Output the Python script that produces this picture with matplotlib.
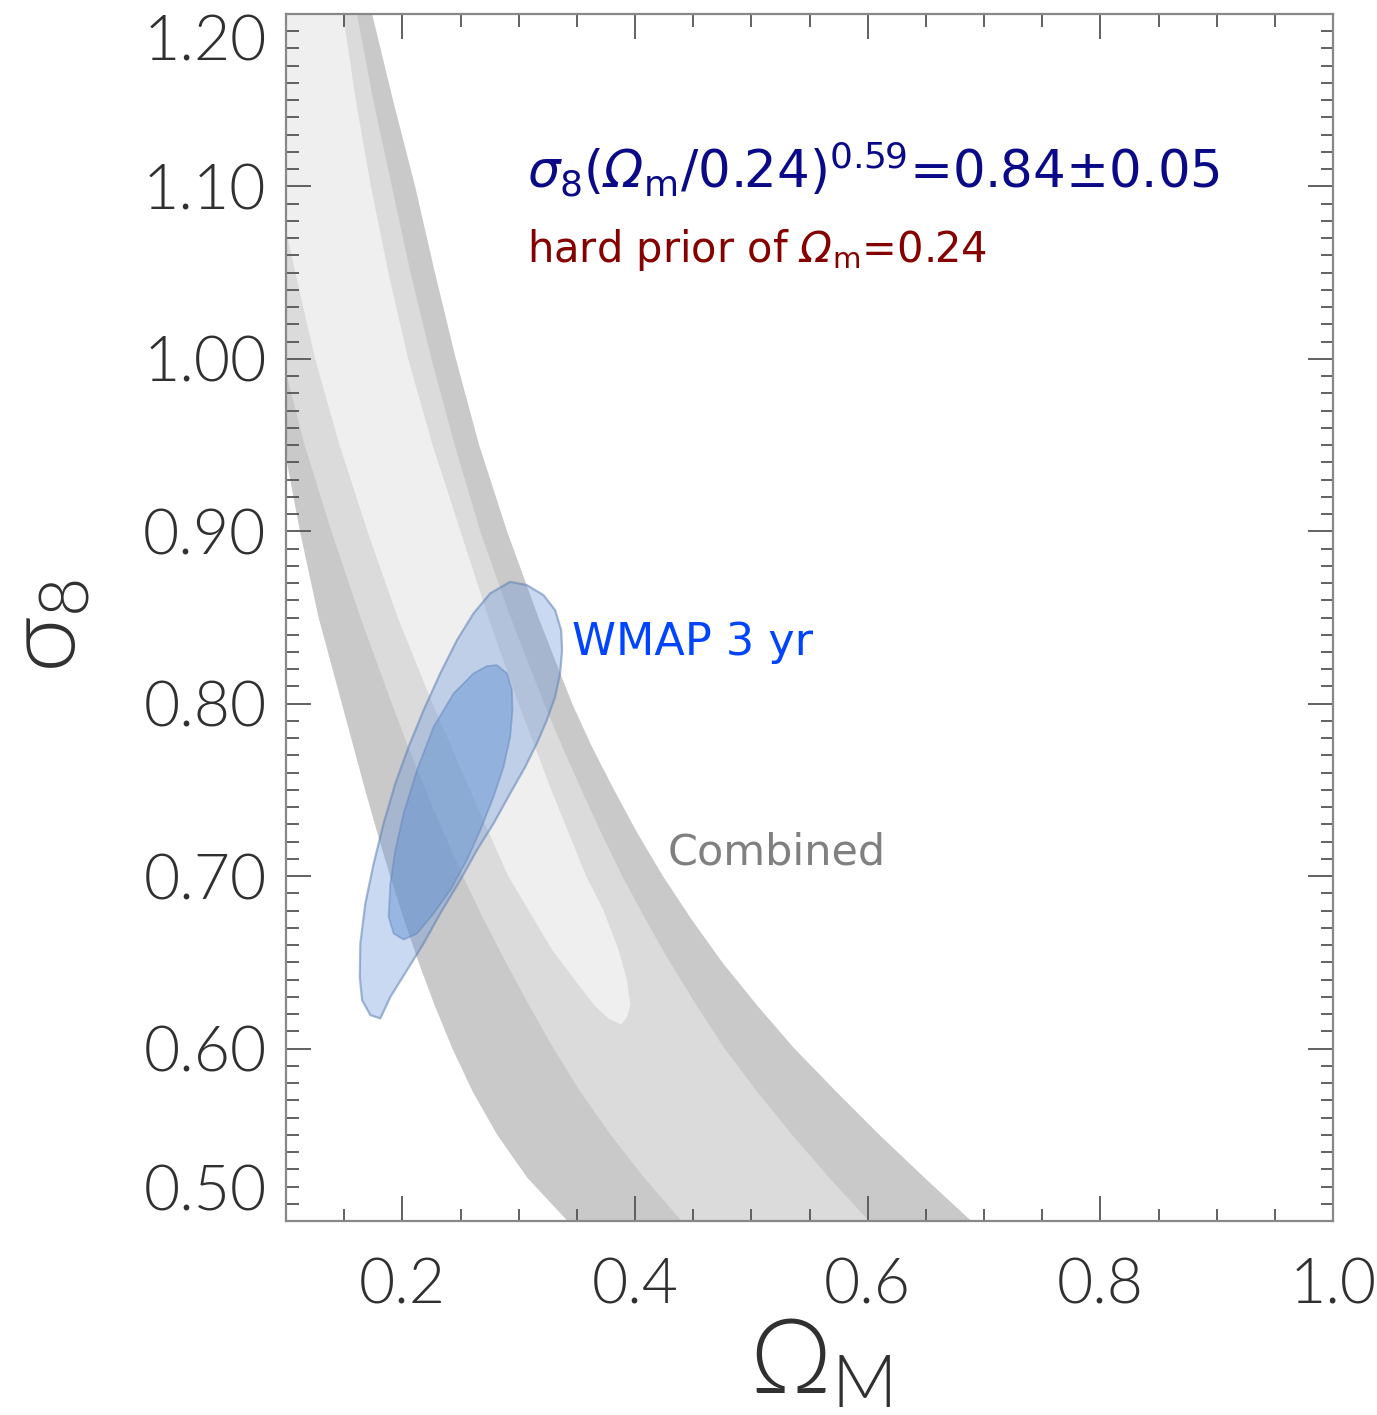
import matplotlib

matplotlib.use("Agg")

import matplotlib.pyplot as plt
import numpy as np
from matplotlib.ticker import FixedLocator, MultipleLocator

plt.rcParams["mathtext.fontset"] = "custom"
plt.rcParams["mathtext.rm"] = "DejaVu Sans:italic"
plt.rcParams["mathtext.it"] = "DejaVu Sans:italic"
plt.rcParams["mathtext.sf"] = "DejaVu Sans"

# ---- combined (lensing) constraint: band edges ----
# each boundary: sigma8 levels and the Omega_m position of the edge
left_s8 = [1.20, 1.10, 1.00, 0.95, 0.90, 0.85, 0.80, 0.775, 0.75, 0.725, 0.70, 0.675,
           0.65, 0.625, 0.60, 0.575, 0.55, 0.525, 0.50]
outer_left_om = [0.040, 0.062, 0.085, 0.098, 0.112, 0.128, 0.148, 0.158, 0.168, 0.1785, 0.1895,
                 0.2013, 0.214, 0.2278, 0.243, 0.2605, 0.2815, 0.3075, 0.342]
mid_left_om = [0.050, 0.075, 0.097, 0.116, 0.139, 0.164, 0.191, 0.205, 0.220, 0.2355, 0.252,
               0.2698, 0.289, 0.309, 0.330, 0.353, 0.379, 0.408, 0.440]

right_s8 = [1.20, 1.15, 1.10, 1.05, 1.00, 0.95, 0.90, 0.85, 0.80, 0.775, 0.75, 0.725, 0.70,
            0.675, 0.65, 0.625, 0.60, 0.575, 0.55, 0.525, 0.50]
mid_right_om = [0.161, 0.175, 0.191, 0.207, 0.225, 0.245, 0.267, 0.293, 0.322, 0.3375, 0.354,
                0.371, 0.389, 0.409, 0.430, 0.453, 0.477, 0.505, 0.535, 0.567, 0.601]
outer_right_om = [0.174, 0.192, 0.211, 0.228, 0.246, 0.266, 0.290, 0.317, 0.346, 0.363, 0.382,
                  0.402, 0.424, 0.4485, 0.475, 0.505, 0.537, 0.573, 0.610, 0.649, 0.689]

# innermost (lightest) tongue
inner_left_s8 = [1.20, 1.10, 1.05, 1.00, 0.95, 0.90, 0.85, 0.80, 0.75, 0.70, 0.657, 0.640,
                 0.625, 0.617, 0.614]
inner_left_om = [0.060, 0.092, 0.108, 0.125, 0.146, 0.170, 0.196, 0.226, 0.258, 0.291, 0.329, 0.348,
                 0.365, 0.378, 0.388]
inner_right_s8 = [1.20, 1.15, 1.10, 1.05, 1.00, 0.95, 0.90, 0.85, 0.80, 0.75, 0.70, 0.68, 0.657,
                  0.640, 0.625, 0.618]
inner_right_om = [0.149, 0.160, 0.173, 0.188, 0.205, 0.226, 0.250, 0.274, 0.300, 0.328, 0.358, 0.373,
                  0.386, 0.393, 0.396, 0.393]

# ---- WMAP 3 yr contours (closed outlines) ----
wmap_outer_om = [0.2927, 0.3070, 0.3213, 0.3313, 0.3365, 0.3373, 0.3356, 0.3313, 0.3242,
                 0.3156, 0.3056, 0.2927, 0.2784, 0.2641, 0.2498, 0.2326, 0.2183, 0.2040,
                 0.1897, 0.1811, 0.1725, 0.1654, 0.1634, 0.1639, 0.1682, 0.1754, 0.1839,
                 0.1940, 0.2054, 0.2183, 0.2326, 0.2470, 0.2612, 0.2755]
wmap_outer_s8 = [0.8707, 0.8688, 0.8630, 0.8543, 0.8427, 0.8311, 0.8176, 0.8040, 0.7905,
                 0.7770, 0.7634, 0.7480, 0.7306, 0.7151, 0.6977, 0.6784, 0.6610, 0.6455,
                 0.6300, 0.6175, 0.6194, 0.6281, 0.6416, 0.6610, 0.6842, 0.7074, 0.7306,
                 0.7538, 0.7750, 0.7963, 0.8176, 0.8369, 0.8524, 0.8640]

wmap_inner_om = [0.2813, 0.2899, 0.2942, 0.2947, 0.2927, 0.2870, 0.2784, 0.2670, 0.2555,
                 0.2412, 0.2269, 0.2126, 0.2011, 0.1925, 0.1882, 0.1897, 0.1940, 0.2011,
                 0.2126, 0.2269, 0.2441, 0.2612, 0.2727]
wmap_inner_s8 = [0.8224, 0.8176, 0.8079, 0.7963, 0.7808, 0.7634, 0.7460, 0.7267, 0.7093,
                 0.6919, 0.6784, 0.6667, 0.6632, 0.6667, 0.6764, 0.6958, 0.7151, 0.7364,
                 0.7615, 0.7866, 0.8060, 0.8176, 0.8218]

x_ticks = [0.2, 0.4, 0.6, 0.8, 1.0]
x_tick_labels = ["0.2", "0.4", "0.6", "0.8", "1.0"]
y_ticks = [0.5, 0.6, 0.7, 0.8, 0.9, 1.0, 1.1, 1.2]
y_tick_labels = ["0.50", "0.60", "0.70", "0.80", "0.90", "1.00", "1.10", "1.20"]

TICK_FONT = "Lato"
AXIS_TEXT = "#303030"


def band(ax, left_om, left_s8, right_om, right_s8, color):
    xs = np.r_[left_om, right_om[::-1]]
    ys = np.r_[left_s8, right_s8[::-1]]
    ax.fill(xs, ys, color=color, lw=0, zorder=1)


fig = plt.figure(figsize=(13.77, 14.15), dpi=100)
ax = fig.add_axes([0.2077, 0.1371, 0.7604, 0.853])

band(ax, outer_left_om, left_s8, outer_right_om, right_s8, "#c9c9c9")
band(ax, mid_left_om, left_s8, mid_right_om, right_s8, "#dbdbdb")
band(ax, inner_left_om, inner_left_s8, inner_right_om, inner_right_s8, "#efefef")

ax.fill(wmap_outer_om, wmap_outer_s8, facecolor=(0.40, 0.58, 0.85, 0.35),
        edgecolor=(0.38, 0.50, 0.70, 0.55), lw=1.6, joinstyle="round", zorder=3)
ax.fill(wmap_inner_om, wmap_inner_s8, facecolor=(0.36, 0.56, 0.82, 0.45),
        edgecolor=(0.36, 0.50, 0.72, 0.45), lw=1.3, joinstyle="round", zorder=4)

ax.set_xlim(0.1, 1.0)
ax.set_ylim(0.5, 1.2)

ax.xaxis.set_major_locator(FixedLocator(x_ticks))
ax.xaxis.set_minor_locator(MultipleLocator(0.05))
ax.yaxis.set_major_locator(FixedLocator(y_ticks))
ax.yaxis.set_minor_locator(MultipleLocator(0.01))
ax.set_xticklabels(x_tick_labels)
ax.set_yticklabels(y_tick_labels)

ax.tick_params(which="both", direction="in", top=True, right=True,
               color="#555555", width=1.3, labelcolor=AXIS_TEXT)
ax.tick_params(which="major", length=18, labelsize=45)
ax.tick_params(axis="x", which="major", pad=26)
ax.tick_params(axis="y", which="major", pad=14)
ax.tick_params(which="minor", length=9)
for lab in ax.get_xticklabels() + ax.get_yticklabels():
    lab.set_family(TICK_FONT)
    lab.set_weight(300)

ylabs = ax.get_yticklabels()
ylabs[0].set_va("bottom")
ylabs[-1].set_va("top")

for sp in ax.spines.values():
    sp.set_color("#888888")
    sp.set_linewidth(1.6)
    sp.set_zorder(5)

fig.text(0.035, 0.558, r"$\mathregular{\sigma_8}$", rotation=90, fontsize=70,
         family=TICK_FONT, weight=300, color=AXIS_TEXT, ha="center", va="center")
fig.text(0.596, 0.036, r"$\mathregular{\Omega_M}$", fontsize=74,
         family=TICK_FONT, weight=300, color=AXIS_TEXT, ha="center", va="center")

formula = (r"$\sigma_{\mathsf{8}}\mathsf{(}\Omega_{\mathsf{m}}\mathsf{/0.24)}"
           r"^{\mathsf{0.59}}$=0.84±0.05")
ax.text(0.307, 1.099, formula, color="#0a0a88", fontsize=37,
        family="DejaVu Sans", zorder=6)
ax.text(0.307, 1.056, r"hard prior of $\Omega_{\mathsf{m}}$=0.24",
        color="#850000", fontsize=30, family="DejaVu Sans", zorder=6)
ax.text(0.346, 0.828, "WMAP 3 yr", color="#0044ff", fontsize=32,
        family="DejaVu Sans", zorder=6)
ax.text(0.428, 0.707, "Combined", color="#808080", fontsize=31,
        family="DejaVu Sans", zorder=6)

fig.savefig("out.png", dpi=100)
